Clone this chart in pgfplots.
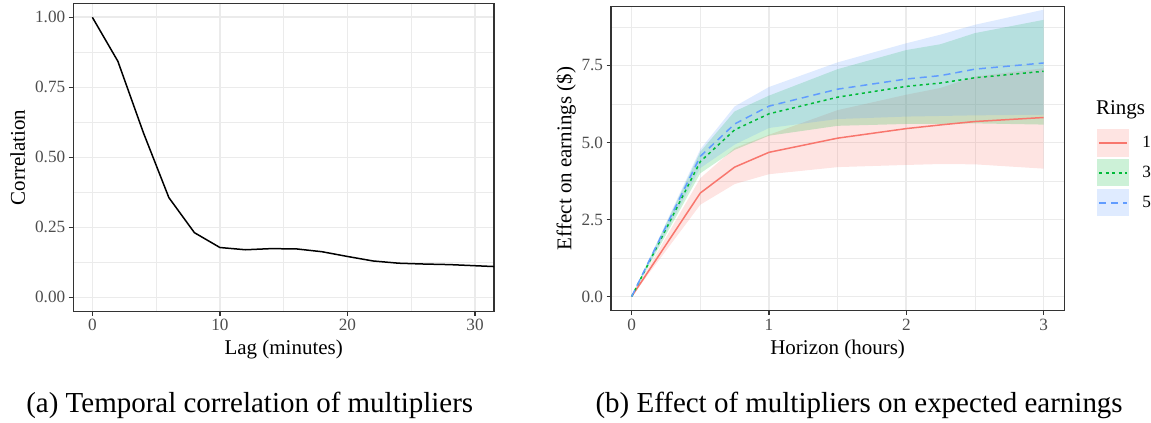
\documentclass[border=0pt]{standalone}
\usepackage{fontspec}
\setmainfont{Liberation Serif}
\usepackage{pgfplots}
\pgfplotsset{compat=1.18}
\usepackage{pgfplotstable}
\usepgfplotslibrary{fillbetween}

\definecolor{c1}{HTML}{F8766D}
\definecolor{c3}{HTML}{00BA38}
\definecolor{c5}{HTML}{619CFF}
\definecolor{gridc}{HTML}{EBEBEB}
\definecolor{framec}{HTML}{333333}
\definecolor{ticklab}{HTML}{4D4D4D}

\pgfplotstableread{
x y
0 1.000
2 0.843
4 0.588
6 0.356
8 0.231
10 0.178
12 0.170
14 0.174
16 0.173
18 0.163
20 0.146
22 0.130
24 0.122
26 0.119
28 0.117
30 0.113
32 0.109
}\corr

\pgfplotstableread{
x m1 l1 u1 m3 l3 u3 m5 l5 u5
0 0 0 0 0 0 0 0 0 0
0.5 3.36 2.98 3.84 4.38 4.00 4.70 4.55 4.17 4.78
0.75 4.20 3.65 4.82 5.41 4.76 6.01 5.60 4.93 6.17
1 4.68 3.97 5.25 5.93 5.22 6.52 6.18 5.47 6.80
1.5 5.14 4.20 6.05 6.47 5.54 7.38 6.73 5.76 7.60
2 5.45 4.27 6.55 6.82 5.60 8.00 7.06 5.84 8.22
2.25 5.57 4.30 6.77 6.93 5.60 8.19 7.17 5.86 8.50
2.5 5.68 4.29 7.14 7.10 5.62 8.55 7.38 5.88 8.82
3 5.81 4.15 7.41 7.31 5.58 8.98 7.58 5.90 9.31
}\earn

\pgfplotsset{ggbw/.style={
  scale only axis,
  axis line style={framec, line width=1.4pt},
  grid=both,
  major grid style={gridc, line width=1.6pt},
  minor grid style={gridc, line width=0.8pt},
  tick align=outside,
  xtick pos=left, ytick pos=left,
  major tick length=4.5pt,
  minor tick length=0pt,
  every tick/.style={framec, line width=1.3pt},
  tick label style={font=\fontsize{17.2}{19}\selectfont, text=ticklab},
  /pgf/number format/assume math mode=true,
  every axis x label/.style={at={(axis description cs:0.5,0)}, anchor=base, yshift=-43.5pt, font=\fontsize{21}{24}\selectfont},
}}
\pgfplotsset{legbox/.style={legend image code/.code={\path[fill=#1!20, draw=none] (0pt,-13.7pt) rectangle (32.4pt,13.7pt); \draw[##1] (2pt,0pt) -- (30.4pt,0pt);}}}

\begin{document}
\begin{tikzpicture}
\path (0pt,0pt) rectangle (1151pt,421pt);

\begin{axis}[ggbw,
  at={(73.3pt,109.3pt)}, anchor=south west,
  width=421.4pt, height=308.4pt,
  xmin=-1.5, xmax=31.5, ymin=-0.05, ymax=1.05,
  xtick={0,10,20,30}, minor xtick={5,15,25},
  ytick={0,0.25,0.5,0.75,1}, minor ytick={0.125,0.375,0.625,0.875},
  yticklabel style={/pgf/number format/.cd, fixed, precision=2, zerofill},
  xlabel={Lag (minutes)},
  ylabel={Correlation},
  every axis y label/.style={at={(axis description cs:0,0.5)}, rotate=90, anchor=base, yshift=48.3pt, font=\fontsize{21}{24}\selectfont},
]
\addplot[black, line width=1.5pt] table[x=x,y=y]{\corr};
\end{axis}

\begin{axis}[ggbw,
  at={(611.7pt,110pt)}, anchor=south west,
  width=453.6pt, height=304.7pt,
  xmin=-0.15, xmax=3.15, ymin=-0.46, ymax=9.42,
  xtick={0,1,2,3}, minor xtick={0.5,1.5,2.5},
  ytick={0,2.5,5,7.5}, minor ytick={1.25,3.75,6.25,8.75},
  yticklabel style={/pgf/number format/.cd, fixed, precision=1, zerofill},
  xlabel={Horizon (hours)},
  ylabel={Effect on earnings (\$)},
  every axis y label/.style={at={(axis description cs:0,0.5)}, rotate=90, anchor=base, yshift=39.7pt, font=\fontsize{21}{24}\selectfont},
  legend cell align=left,
  legend style={at={(1,0.453)}, anchor=west, xshift=32.7pt, draw=none, fill=none,
    row sep=2.6pt, inner sep=0pt, font=\fontsize{17.2}{19}\selectfont,
    nodes={inner sep=0pt},
    /tikz/every odd column/.style={column sep=13pt}},
]
\addplot[name path=u1, draw=none, forget plot] table[x=x,y=u1]{\earn};
\addplot[name path=l1, draw=none, forget plot] table[x=x,y=l1]{\earn};
\addplot[name path=u3, draw=none, forget plot] table[x=x,y=u3]{\earn};
\addplot[name path=l3, draw=none, forget plot] table[x=x,y=l3]{\earn};
\addplot[name path=u5, draw=none, forget plot] table[x=x,y=u5]{\earn};
\addplot[name path=l5, draw=none, forget plot] table[x=x,y=l5]{\earn};
\addplot[fill=c1, fill opacity=0.2, draw=none, forget plot] fill between[of=u1 and l1];
\addplot[fill=c3, fill opacity=0.2, draw=none, forget plot] fill between[of=u3 and l3];
\addplot[fill=c5, fill opacity=0.2, draw=none, forget plot] fill between[of=u5 and l5];

\addplot[c1, line width=1.5pt, legbox=c1] table[x=x,y=m1]{\earn};
\addlegendentry{1}
\addplot[c3, line width=1.5pt, dash pattern=on 3pt off 3.5pt, legbox=c3] table[x=x,y=m3]{\earn};
\addlegendentry{3}
\addplot[c5, line width=1.5pt, dash pattern=on 7pt off 5pt, legbox=c5] table[x=x,y=m5]{\earn};
\addlegendentry{5}
\end{axis}

\node[anchor=base west, font=\fontsize{21}{24}\selectfont, inner sep=0pt] at (1097pt,306pt) {Rings};

\node[anchor=base, font=\fontsize{29}{32}\selectfont] at (250pt,8pt) {(a) Temporal correlation of multipliers};
\node[anchor=base, font=\fontsize{29}{32}\selectfont] at (860pt,8pt) {(b) Effect of multipliers on expected earnings};
\end{tikzpicture}
\end{document}
